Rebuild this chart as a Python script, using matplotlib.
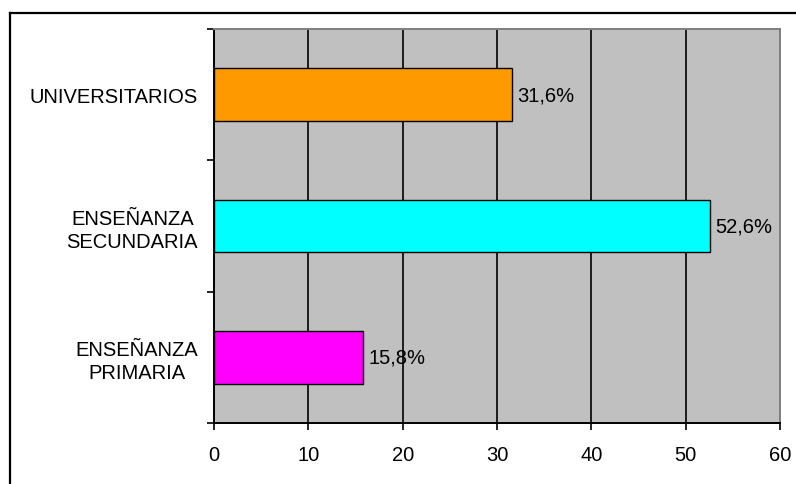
import matplotlib
matplotlib.use("Agg")
import matplotlib.pyplot as plt
from matplotlib.lines import Line2D

# nivel de estudios (de abajo hacia arriba)
categorias = ["ENSEÑANZA\nPRIMARIA", "ENSEÑANZA\nSECUNDARIA", "UNIVERSITARIOS"]
porcentajes = [15.8, 52.6, 31.6]
colores = ["#FF00FF", "#00FFFF", "#FF9900"]
ticks_x = [0, 10, 20, 30, 40, 50, 60]

plt.rcParams["font.family"] = ["Liberation Sans", "DejaVu Sans"]
TAM = 14.5

fig = plt.figure(figsize=(7.96, 4.85), dpi=100)
ax = fig.add_axes([214 / 796, 1 - 424 / 485, 566 / 796, 394 / 485])

ax.set_facecolor("#C0C0C0")
posiciones = list(range(len(categorias)))
barras = ax.barh(posiciones, porcentajes, height=0.4, color=colores,
                 edgecolor="black", linewidth=1.0, zorder=3)

for barra, valor in zip(barras, porcentajes):
    ax.annotate("{:.1f}%".format(valor).replace(".", ","),
                (barra.get_width(), barra.get_y() + barra.get_height() / 2),
                xytext=(4, 0), textcoords="offset points",
                ha="left", va="center", fontsize=TAM, zorder=4)

ax.set_xlim(0, 60)
ax.set_ylim(-0.5, len(categorias) - 0.5)
ax.set_xticks(ticks_x)
ax.tick_params(axis="x", length=5, width=1.2, pad=10.5, labelsize=TAM)

# marcas en los limites de cada categoria, etiquetas en el centro
ax.set_yticks([p - 0.5 for p in posiciones] + [len(categorias) - 0.5])
ax.set_yticklabels([])
ax.tick_params(axis="y", which="major", length=5, width=1.2)
ax.set_yticks(posiciones, minor=True)
ax.set_yticklabels(categorias, minor=True, multialignment="center",
                   linespacing=1.25, fontsize=TAM)
ax.tick_params(axis="y", which="minor", length=0, pad=11.5)

ax.grid(axis="x", color="black", linewidth=1.2, zorder=1)
ax.set_axisbelow(True)

for lado in ["left", "bottom"]:
    ax.spines[lado].set_color("black")
    ax.spines[lado].set_linewidth(1.4)
for lado in ["top", "right"]:
    ax.spines[lado].set_color("#808080")
    ax.spines[lado].set_linewidth(1.4)

# marco exterior del grafico
fig.add_artist(Line2D([10 / 796, 10 / 796], [0, 1 - 14 / 485],
                      transform=fig.transFigure, color="black", linewidth=1.6))
fig.add_artist(Line2D([10 / 796, 1], [1 - 14 / 485, 1 - 14 / 485],
                      transform=fig.transFigure, color="black", linewidth=1.6))

fig.savefig("out.png", dpi=100)
